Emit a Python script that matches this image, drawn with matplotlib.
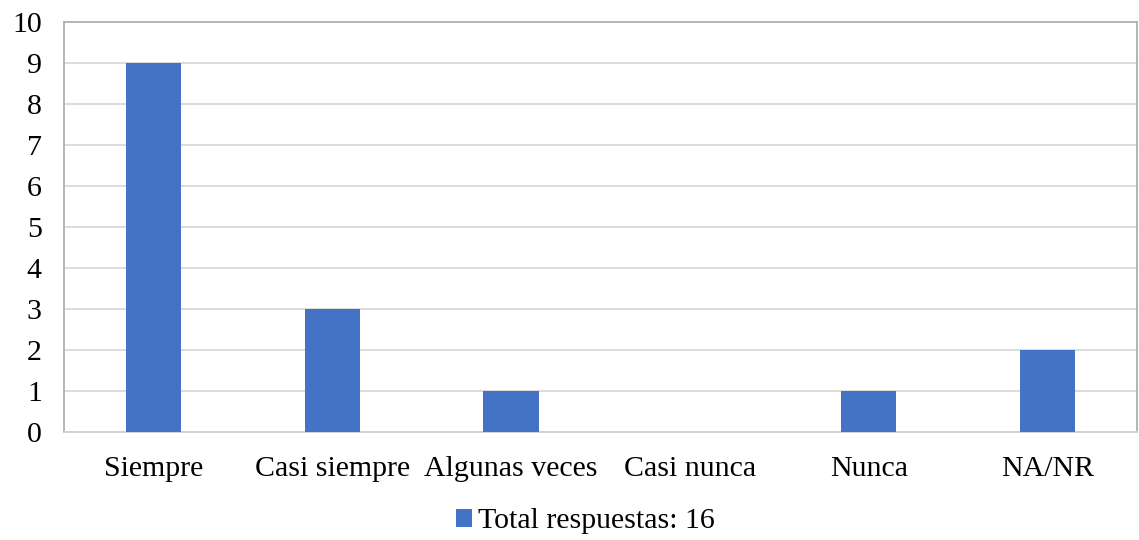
import matplotlib.pyplot as plt
import numpy as np

plt.rcParams['font.family'] = ['Liberation Serif', 'DejaVu Serif']

# response counts per answer option
categories = ['Siempre', 'Casi siempre', 'Algunas veces', 'Casi nunca', 'Nunca', 'NA/NR']
counts = [9, 3, 1, 0, 1, 2]
series_label = 'Total respuestas: 16'

fig = plt.figure(figsize=(11.39, 5.40), dpi=100)
ax = fig.add_axes([64/1139, 1 - 432/540, 1073/1139, 410/540])

x = np.arange(len(categories))
ax.bar(x, counts, width=0.31, color='#4472C4', label=series_label, zorder=3)

ax.set_xlim(-0.5, len(categories) - 0.5)
ax.set_ylim(0, 10)
ax.set_yticks(range(0, 11))
ax.set_xticks(x)
ax.set_xticklabels(categories)
ax.tick_params(axis='both', length=0, labelsize=21.5, colors='black')
ax.tick_params(axis='x', pad=17)
ax.tick_params(axis='y', pad=16)
ax.grid(axis='y', color='#d9d9d9', linewidth=1.3, zorder=0)

for side in ['top', 'left', 'right']:
    ax.spines[side].set_color('#b0b0b0')
    ax.spines[side].set_linewidth(1.3)
ax.spines['bottom'].set_color('#d0d0d0')
ax.spines['bottom'].set_linewidth(1.3)

ax.legend(loc='center', bbox_to_anchor=(0.486, -0.218), frameon=False,
          fontsize=21.5, handlelength=0.55, handleheight=0.55, handletextpad=0.2,
          borderpad=0, borderaxespad=0)

fig.savefig('out.png', dpi=100)
